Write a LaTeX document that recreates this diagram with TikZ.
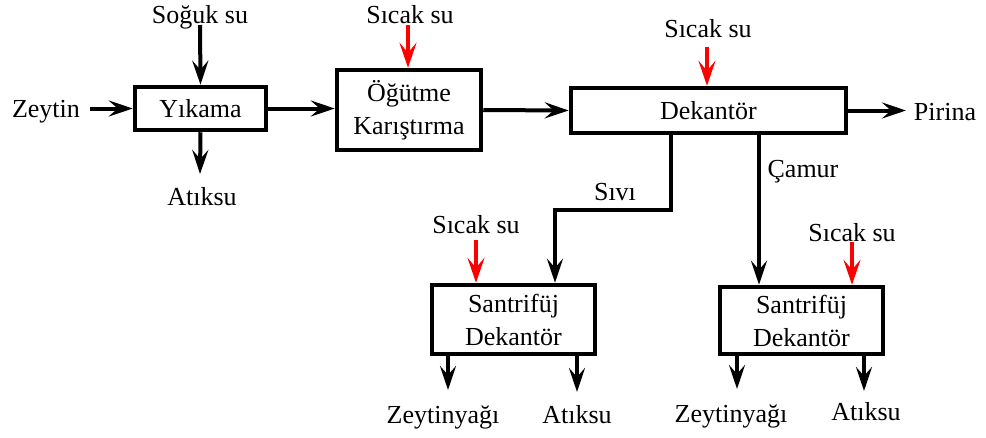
\documentclass[tikz,border=0pt]{standalone}
\usepackage{fontspec}
\setmainfont{Liberation Serif}
\usetikzlibrary{arrows.meta}
\newcommand{\fs}{\rmfamily\fontsize{26}{33}\selectfont}
\begin{document}
\begin{tikzpicture}[x=1pt,y=-1pt,
  blk/.style={draw, line width=4.5pt, inner sep=0pt, align=center, font=\fs},
  lbl/.style={inner sep=0pt, font=\fs, anchor=base},
  arr/.style={line width=4pt, -{Stealth[length=24pt,width=16pt,inset=9pt]}},
  rarr/.style={line width=3.5pt, red, -{Stealth[length=25pt,width=17pt,inset=10pt]}}]
\useasboundingbox (0,0) rectangle (986,437);
% boxes
\node[blk, minimum width=131pt, minimum height=43pt] (yik) at (200.5,108.5) {Yıkama};
\node[blk, minimum width=144pt, minimum height=80pt] (og) at (409,110) {Öğütme\\Karıştırma};
\node[blk, minimum width=275pt, minimum height=45pt] (dek) at (708.5,110.5) {Dekantör};
\node[blk, minimum width=163pt, minimum height=69pt] (s1) at (513.5,319.5) {Santrifüj\\Dekantör};
\node[blk, minimum width=163pt, minimum height=67pt] (s2) at (801.5,320.5) {Santrifüj\\Dekantör};
% labels
\node[lbl] (zey) at (46,117) {Zeytin};
\node[lbl] (sog) at (200,23) {Soğuk su};
\node[lbl] (at0) at (202,205) {Atıksu};
\node[lbl] (sc1) at (410,23) {Sıcak su};
\node[lbl] (sc2) at (708,37) {Sıcak su};
\node[lbl] (pir) at (945,120) {Pirina};
\node[lbl] (siv) at (615,200) {Sıvı};
\node[lbl] (cam) at (803,177) {Çamur};
\node[lbl] (sc3) at (476,233) {Sıcak su};
\node[lbl] (sc4) at (852,241) {Sıcak su};
\node[lbl] (zy1) at (443,423) {Zeytinyağı};
\node[lbl] (at1) at (577,423) {Atıksu};
\node[lbl] (zy2) at (731,422) {Zeytinyağı};
\node[lbl] (at2) at (866,420) {Atıksu};
% coordinates
\coordinate (sogS) at (200,25);
\coordinate (at0E) at (200,174);
\coordinate (sc1S) at (408,25);
\coordinate (sc2S) at (707,47);
\coordinate (sc3S) at (476,240);
\coordinate (sc4S) at (852,242);
\coordinate (pirE) at (906,110.5);
\coordinate (zeyS) at (90,108.5);
\coordinate (bend) at (671,210);
\coordinate (bend2) at (555,210);
\coordinate (camX) at (759,200);
\coordinate (z1E) at (448,390);
\coordinate (a1E) at (577,392);
\coordinate (z2E) at (737,389);
\coordinate (a2E) at (864,391);
% connectors
\draw[arr] (zeyS) -- (yik.west);
\draw[arr] (sogS) -- (yik.north);
\draw[arr] (yik.south) -- (at0E);
\draw[arr] (yik.east) -- (og.west |- yik.east);
\draw[arr] (og.east) -- (dek.west);
\draw[arr] (dek.east) -- (pirE);
\draw[rarr] (sc1S) -- (sc1S |- og.north);
\draw[rarr] (sc2S) -- (sc2S |- dek.north);
\draw[arr] (bend |- dek.south) -- (bend) -- (bend2) -- (bend2 |- s1.north);
\draw[arr] (camX |- dek.south) -- (camX |- s2.north);
\draw[rarr] (sc3S) -- (sc3S |- s1.north);
\draw[rarr] (sc4S) -- (sc4S |- s2.north);
\draw[arr] (z1E |- s1.south) -- (z1E);
\draw[arr] (a1E |- s1.south) -- (a1E);
\draw[arr] (z2E |- s2.south) -- (z2E);
\draw[arr] (a2E |- s2.south) -- (a2E);
\end{tikzpicture}
\end{document}
